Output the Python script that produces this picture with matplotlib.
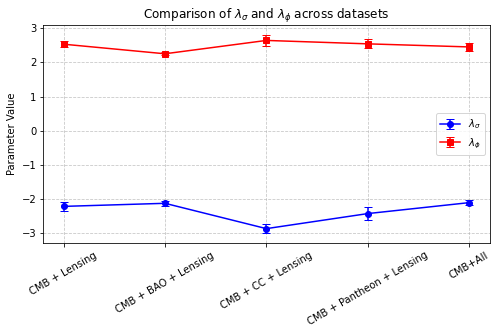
import matplotlib
matplotlib.use('Agg')
import matplotlib.pyplot as plt
import numpy as np

datasets = ['CMB + Lensing', 'CMB + BAO + Lensing', 'CMB + CC + Lensing',
            'CMB + Pantheon + Lensing', 'CMB+All']
lam_sigma = [-2.21, -2.12, -2.86, -2.42, -2.10]
lam_sigma_err = [0.13, 0.07, 0.13, 0.19, 0.07]
lam_phi = [2.53, 2.25, 2.64, 2.54, 2.45]
lam_phi_err = [0.09, 0.05, 0.16, 0.13, 0.12]

x = np.arange(len(datasets))

fig, ax = plt.subplots(figsize=(497/72, 334/72), dpi=72)
ax.errorbar(x, lam_sigma, yerr=lam_sigma_err, fmt='-o', color='blue',
            capsize=4, label=r'$\lambda_\sigma$')
ax.errorbar(x, lam_phi, yerr=lam_phi_err, fmt='-s', color='red',
            capsize=4, label=r'$\lambda_\phi$')

ax.set_xticks(x)
ax.set_xticklabels(datasets, rotation=30)
ax.set_ylabel('Parameter Value')
ax.set_title(r'Comparison of $\lambda_\sigma$ and $\lambda_\phi$ across datasets')
ax.set_yticks([-3, -2, -1, 0, 1, 2, 3])
ax.grid(True, linestyle='--', alpha=0.7)
ax.legend(loc='center right')

plt.subplots_adjust(left=0.087, right=0.985, top=0.925, bottom=0.2725)
plt.savefig('out.png', dpi=72)
